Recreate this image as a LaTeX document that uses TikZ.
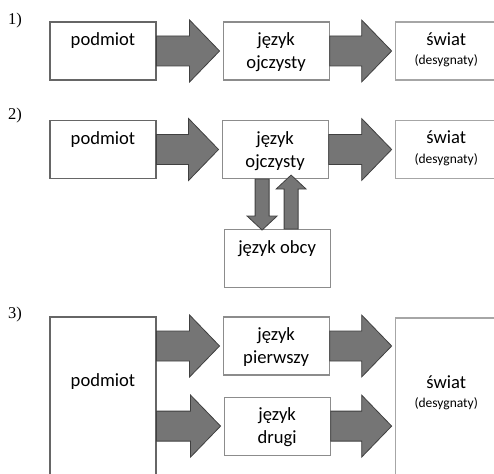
\documentclass[tikz,border=0pt]{standalone}
\usepackage{fontspec}
\setmainfont{Carlito}
\newfontfamily\numfont{Liberation Serif}
\usetikzlibrary{positioning,calc}

\newcommand{\desc}[1]{{\fontsize{13.5}{16}\selectfont #1}}
% broad arrow to the right, tip stops 3pt before #2
\newcommand{\harrow}[2]{%
  \draw[fat] ($(#1)+(0,-15)$) -- ($(#2)+(-33,-15)$) -- ($(#2)+(-33,-31)$)
    -- ($(#2)+(-3,0)$) -- ($(#2)+(-33,31)$) -- ($(#2)+(-33,15)$)
    -- ($(#1)+(0,15)$) -- cycle;}
% broad upright arrow, #3 = 1 going down, -1 going up
\newcommand{\varrow}[3]{%
  \draw[fat] ($(#1)+(-7,0)$) -- ($(#2)+(-7,-14*#3)$) -- ($(#2)+(-15,-14*#3)$)
    -- (#2) -- ($(#2)+(15,-14*#3)$) -- ($(#2)+(7,-14*#3)$)
    -- ($(#1)+(7,0)$) -- cycle;}

\tikzset{
  box/.style={draw=black!45, line width=1.1pt, minimum width=106, minimum height=58, inner sep=0pt},
  wide/.style={box, draw=black!35, minimum width=102, anchor=west},
  txt/.style={anchor=north, inner sep=0pt, align=center, yshift=-11pt,
    font=\fontsize{18.6}{23}\selectfont},
  num/.style={inner sep=0pt, font=\numfont\fontsize{16.5}{18}\selectfont},
  fat/.style={fill=black!54, draw=black!75, line width=0.8pt, line join=miter}
}

\begin{document}
\begin{tikzpicture}[x=1pt, y=-1pt, node distance=66pt]
\useasboundingbox (0,0) rectangle (494,473);

% 1) mother tongue only
\node[num] (n1) at (15,21) {1)};
\node[box, draw=black!60, label={[txt]north:podmiot}] (p1) at (103,51) {};
\node[box, right=of p1, label={[txt]north:język\\ojczysty}] (j1) {};
\node[wide, right=65pt of j1, label={[txt]north:świat\\[-3.5pt]\desc{(desygnaty)}}] (s1) {};
\harrow{p1.east}{j1.west}
\harrow{j1.east}{s1.west}

% 2) foreign language hanging off the mother tongue
\node[num] (n2) at (15,116) {2)};
\node[box, draw=black!60, label={[txt]north:podmiot}] (p2) at (103,149.5) {};
\node[box, right=65pt of p2, label={[txt]north:język\\ojczysty}] (j2) {};
\node[wide, right=66pt of j2, label={[txt]north:świat\\[-3.5pt]\desc{(desygnaty)}}] (s2) {};
\node[box, below=50pt of j2, xshift=2pt, label={[txt]north:język obcy}] (obcy) {};
\harrow{p2.east}{j2.west}
\harrow{j2.east}{s2.west}
\coordinate (d0) at ([xshift=-13pt]j2.south);
\coordinate (d1) at ([yshift=-1pt]d0 |- obcy.north);
\coordinate (u0) at ([xshift=14pt]obcy.north);
\coordinate (u1) at ([yshift=4pt]u0 |- j2.south);
\varrow{d0}{d1}{1}
\varrow{u0}{u1}{-1}

% 3) two languages side by side
\node[num] (n3) at (15,315) {3)};
\node[box, draw=black!60, minimum height=175, label={[txt, yshift=-46pt]north:podmiot}] (p3) at (103,404.5) {};
\node[box, anchor=north west, label={[txt]north:język\\pierwszy}] (ja) at ([xshift=66pt]p3.north east) {};
\node[box, below=21pt of ja, xshift=1pt, label={[txt]north:język\\drugi}] (jb) {};
\node[wide, minimum height=175, anchor=north west,
  label={[txt, yshift=-47pt]north:świat\\[-3.5pt]\desc{(desygnaty)}}] (s3) at ([xshift=65pt, yshift=-1pt]ja.north east) {};
\harrow{p3.east |- ja.west}{ja.west}
\harrow{p3.east |- jb.west}{jb.west}
\harrow{ja.east}{s3.west |- ja.east}
\harrow{jb.east}{s3.west |- jb.east}
\end{tikzpicture}
\end{document}
